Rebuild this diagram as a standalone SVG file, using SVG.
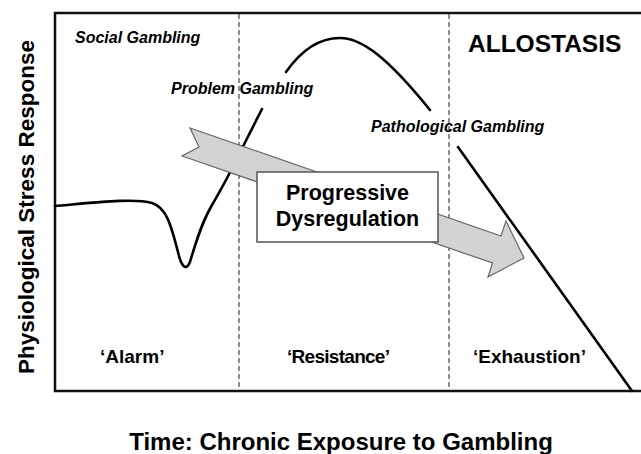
<svg xmlns="http://www.w3.org/2000/svg" width="641" height="454" viewBox="0 0 641 454">
<style>
text{font-family:"Liberation Sans",Arial,sans-serif;font-weight:bold;fill:#000}
.it{font-style:italic;font-size:16px}
.phase{font-size:19px}
.frame{fill:none;stroke:#111;stroke-width:2.5}
.dash{fill:none;stroke:#444;stroke-width:1.2;stroke-dasharray:5 3}
.curve{fill:none;stroke:#000;stroke-width:2.6;stroke-linecap:round;stroke-linejoin:round}
.arrow{fill:#d3d3d3;stroke:#666;stroke-width:1.2;stroke-linejoin:miter}
.box{fill:#fff;stroke:#555;stroke-width:1.5}
</style>
<rect width="641" height="454" fill="#fff"/>
<g id="axes">
<path class="frame" d="M641,13 H55 V391 H641"/>
</g>
<g id="dividers">
<line class="dash" x1="239" y1="14" x2="239" y2="390"/>
<line class="dash" x1="449" y1="14" x2="449" y2="390"/>
</g>
<g id="connectors">
<path id="stress-curve" class="curve" d="M55,206 C100,202 135,198 152,203 C168,208 172,230 178,252 C181,266 186,272 190,262 C195,245 201,224 212,205 C220,191 226,181 232,168 L262,109 M286,72 C300,52 318,38 340,38 C362,38 388,58 430,110 M458,147 L632,391"/>
</g>
<g id="dysregulation-arrow">
<polygon class="arrow" points="190,128 501,236 506,221 524,258 488,277 492.5,263 182,156 199,147"/>
</g>
<g id="node-progressive">
<rect class="box" x="257" y="172" width="181" height="70"/>
<text x="347.5" y="200" font-size="21.5" text-anchor="middle">Progressive</text>
<text x="347.5" y="226" font-size="21.5" text-anchor="middle">Dysregulation</text>
</g>
<g id="label-social"><text class="it" x="75" y="43">Social Gambling</text></g>
<g id="label-problem"><text class="it" x="171" y="94">Problem Gambling</text></g>
<g id="label-pathological"><text class="it" x="371" y="132">Pathological Gambling</text></g>
<g id="label-allostasis"><text x="468" y="52" font-size="24.5">ALLOSTASIS</text></g>
<g id="phase-alarm"><text class="phase" x="100" y="363">‘Alarm’</text></g>
<g id="phase-resistance"><text class="phase" x="287" y="363" textLength="103">‘Resistance’</text></g>
<g id="phase-exhaustion"><text class="phase" x="473" y="363">‘Exhaustion’</text></g>
<g id="y-axis-label"><text transform="translate(34,207) rotate(-90)" font-size="22.5" text-anchor="middle">Physiological Stress Response</text></g>
<g id="x-axis-label"><text x="341" y="450" font-size="24" text-anchor="middle">Time: Chronic Exposure to Gambling</text></g>
</svg>
